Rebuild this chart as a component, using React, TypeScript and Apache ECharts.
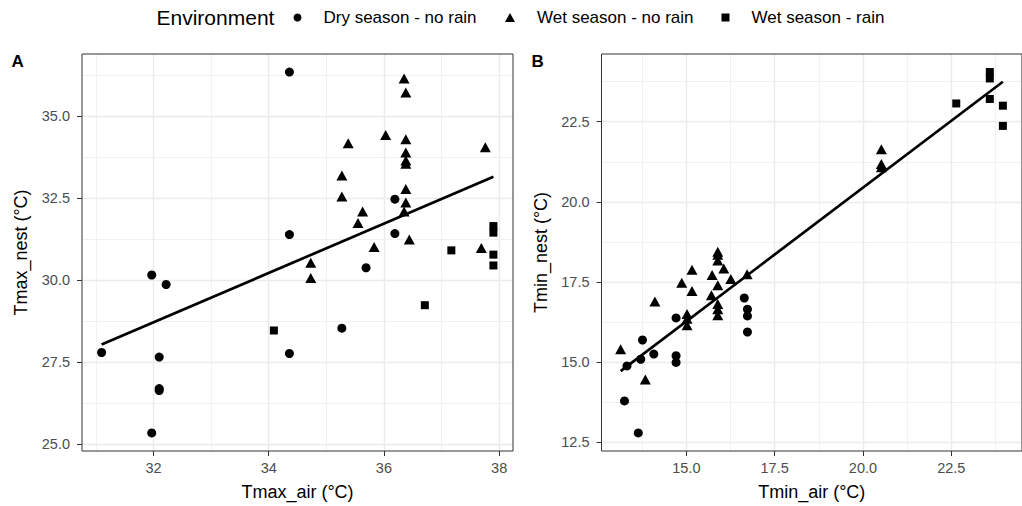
import React, { useEffect, useRef } from "react";
import * as echarts from "echarts";

const FONT = "'Liberation Sans', Arial, Helvetica, sans-serif";

const seriesNames = ["Dry season - no rain", "Wet season - no rain", "Wet season - rain"];

// Panel A: Tmax_air (x) vs Tmax_nest (y)
const dryA: number[][] = [
  [31.10, 27.80], [31.97, 30.16], [32.22, 29.87], [32.10, 27.66], [32.10, 26.70],
  [32.10, 26.64], [31.97, 25.35], [34.36, 36.34], [34.36, 31.39], [34.36, 27.77],
  [35.27, 28.54], [35.69, 30.38], [36.19, 31.42], [36.19, 32.47],
];
const wetNoRainA: number[][] = [
  [36.35, 36.14], [36.38, 35.72], [35.38, 34.17], [36.03, 34.42], [36.38, 34.29],
  [36.38, 33.89], [36.38, 33.65], [36.38, 33.55], [37.76, 34.05], [35.27, 33.19],
  [35.27, 32.55], [36.38, 32.78], [36.38, 32.37], [36.35, 32.09], [35.63, 32.09],
  [35.55, 31.74], [36.44, 31.24], [35.83, 31.01], [37.69, 30.98], [34.73, 30.53],
  [34.73, 30.07],
];
const wetRainA: number[][] = [
  [37.90, 31.65], [37.90, 31.45], [37.90, 30.78], [37.90, 30.45], [37.17, 30.91],
  [36.71, 29.24], [34.09, 28.47],
];
const fitA = [4.67, 0.7515]; // intercept, slope

// Panel B: Tmin_air (x) vs Tmin_nest (y)
const dryB: number[][] = [
  [13.25, 13.79], [13.64, 12.79], [13.32, 14.88], [13.71, 15.09], [13.76, 15.69],
  [14.08, 15.25], [14.71, 16.38], [14.71, 15.20], [14.71, 14.99], [16.64, 17.00],
  [16.73, 16.65], [16.73, 16.44], [16.73, 15.94],
];
const wetNoRainB: number[][] = [
  [13.14, 15.40], [13.84, 14.46], [14.11, 16.89], [15.02, 16.50], [15.02, 16.35],
  [15.02, 16.15], [14.87, 17.48], [15.16, 17.88], [15.16, 17.22], [15.73, 17.72],
  [15.71, 17.09], [15.89, 18.44], [15.89, 18.35], [15.89, 18.17], [15.89, 17.40],
  [15.89, 16.81], [15.89, 16.65], [15.89, 16.46], [16.06, 17.92], [16.26, 17.59],
  [16.72, 17.74], [20.52, 21.64], [20.52, 21.18], [20.52, 21.08],
];
const wetRainB: number[][] = [
  [22.64, 23.07], [23.59, 24.05], [23.59, 23.85], [23.59, 23.21], [23.96, 23.00],
  [23.96, 22.37],
];
const fitB = [3.757, 0.8343]; // intercept, slope

const ticksAx = [32, 34, 36, 38];
const minorAx = [31, 33, 35, 37];
const ticksAy = [25, 27.5, 30, 32.5, 35];
const minorAy = [26.25, 28.75, 31.25, 33.75, 36.25];
const ticksBx = [15, 17.5, 20, 22.5];
const minorBx = [13.75, 16.25, 18.75, 21.25, 23.75];
const ticksBy = [12.5, 15, 17.5, 20, 22.5];
const minorBy = [13.75, 16.25, 18.75, 21.25, 23.75];

function expand(vals: number[]): [number, number] {
  const mn = Math.min(...vals);
  const mx = Math.max(...vals);
  const p = (mx - mn) * 0.05;
  return [mn - p, mx + p];
}

function fitLine(points: number[][], fit: number[]) {
  const xs = points.map((p) => p[0]);
  const x0 = Math.min(...xs);
  const x1 = Math.max(...xs);
  return [
    [x0, fit[0] + fit[1] * x0],
    [x1, fit[0] + fit[1] * x1],
  ];
}

function majorAxis(gridIndex: number, range: [number, number], ticks: number[], fmt: (v: number) => string,
  name: string, isX: boolean) {
  return {
    type: "value",
    gridIndex,
    min: range[0],
    max: range[1],
    position: isX ? "bottom" : "left",
    name,
    nameLocation: "middle",
    nameGap: isX ? 32 : 52,
    nameRotate: isX ? 0 : 90,
    nameTextStyle: { fontSize: 18, color: "#000", fontFamily: FONT },
    axisLine: { show: false },
    axisTick: { show: true, length: 5, customValues: ticks, lineStyle: { color: "#333", width: 1 } },
    axisLabel: {
      show: true,
      customValues: ticks,
      formatter: (v: number) => fmt(v),
      fontSize: 14.5,
      color: "#4d4d4d",
      fontFamily: FONT,
      margin: isX ? 9 : 12,
    },
    splitLine: { show: true, lineStyle: { color: "#ebebeb", width: 1.4 } },
    z: 1,
  };
}

function minorAxis(gridIndex: number, range: [number, number], minor: number[], isX: boolean) {
  return {
    type: "value",
    gridIndex,
    min: range[0],
    max: range[1],
    position: isX ? "top" : "right",
    axisLine: { show: false },
    axisTick: { show: false, customValues: minor },
    axisLabel: { show: false, customValues: minor },
    splitLine: { show: true, lineStyle: { color: "#ebebeb", width: 0.7 } },
    silent: true,
    z: 0,
  };
}

export default function App() {
  const ref = useRef<HTMLDivElement>(null);

  useEffect(() => {
    if (!ref.current) return;
    const chart = echarts.init(ref.current, undefined, { renderer: "svg" });

    const allA = [...dryA, ...wetNoRainA, ...wetRainA];
    const allB = [...dryB, ...wetNoRainB, ...wetRainB];
    const rAx = expand(allA.map((p) => p[0]));
    const rAy = expand(allA.map((p) => p[1]));
    const rBx = expand(allB.map((p) => p[0]));
    const rBy = expand(allB.map((p) => p[1]));

    const int = (v: number) => String(Math.round(v));
    const one = (v: number) => v.toFixed(1);

    const symbols = ["circle", "triangle", "rect"];
    const sizes: any[] = [9, [11, 10], 8];
    const panelData = [
      [dryA, wetNoRainA, wetRainA],
      [dryB, wetNoRainB, wetRainB],
    ];

    const series: any[] = [];
    panelData.forEach((groups, pi) => {
      groups.forEach((d, gi) => {
        series.push({
          type: "scatter",
          name: seriesNames[gi],
          xAxisIndex: pi * 2,
          yAxisIndex: pi * 2,
          data: d,
          symbol: symbols[gi],
          symbolSize: sizes[gi],
          itemStyle: { color: "#000", opacity: 1 },
          z: 3,
        });
      });
    });
    series.push({
      type: "line",
      xAxisIndex: 0,
      yAxisIndex: 0,
      data: fitLine(allA, fitA),
      symbol: "none",
      lineStyle: { color: "#000", width: 2.7 },
      z: 4,
    });
    series.push({
      type: "line",
      xAxisIndex: 2,
      yAxisIndex: 2,
      data: fitLine(allB, fitB),
      symbol: "none",
      lineStyle: { color: "#000", width: 2.7 },
      z: 4,
    });

    const legendLefts = [293.5, 505, 721.5];
    const legend = seriesNames.map((n, i) => ({
      data: [{ name: n, icon: symbols[i] }],
      left: legendLefts[i],
      top: 9,
      padding: 0,
      itemWidth: i === 1 ? 10 : 8,
      itemHeight: i === 1 ? 9 : 8,
      selectedMode: false,
      textStyle: { fontSize: 17, color: "#000", fontFamily: FONT, padding: [0, 0, 0, 17] },
    }));

    chart.setOption({
      animation: false,
      backgroundColor: "#fff",
      textStyle: { fontFamily: FONT },
      grid: [
        { left: 82, top: 54, width: 431, height: 397, show: true, borderColor: "#333", borderWidth: 1, backgroundColor: "transparent", z: 2 },
        { left: 601.5, top: 54, width: 431, height: 397, show: true, borderColor: "#333", borderWidth: 1, backgroundColor: "transparent", z: 2 },
      ],
      xAxis: [
        majorAxis(0, rAx, ticksAx, int, "Tmax_air (°C)", true),
        minorAxis(0, rAx, minorAx, true),
        majorAxis(1, rBx, ticksBx, one, "Tmin_air (°C)", true),
        minorAxis(1, rBx, minorBx, true),
      ],
      yAxis: [
        majorAxis(0, rAy, ticksAy, one, "Tmax_nest (°C)", false),
        minorAxis(0, rAy, minorAy, false),
        majorAxis(1, rBy, ticksBy, one, "Tmin_nest (°C)", false),
        minorAxis(1, rBy, minorBy, false),
      ],
      legend,
      graphic: [
        {
          type: "text",
          left: 156.5,
          top: 7,
          style: { text: "Environment", fontSize: 21, fill: "#000", fontFamily: FONT },
        },
        {
          type: "text",
          left: 11.5,
          top: 53,
          style: { text: "A", fontSize: 17, fontWeight: "bold", fill: "#000", fontFamily: FONT },
        },
        {
          type: "text",
          left: 531.5,
          top: 53,
          style: { text: "B", fontSize: 17, fontWeight: "bold", fill: "#000", fontFamily: FONT },
        },
      ],
      series,
    });

    return () => chart.dispose();
  }, []);

  return (
    <div
      ref={ref}
      style={{ position: "fixed", left: 0, top: 0, width: 1022, height: 506, background: "#fff" }}
    />
  );
}
